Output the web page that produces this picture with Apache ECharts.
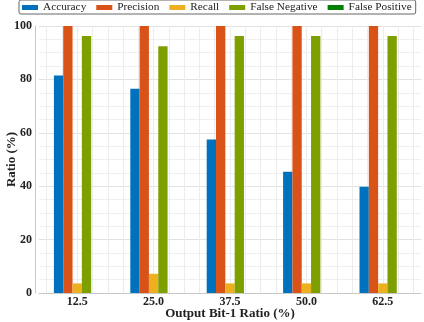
<!DOCTYPE html>
<html>
<head>
<meta charset="utf-8">
<script src="https://cdn.jsdelivr.net/npm/echarts@6/dist/echarts.min.js"></script>
<style>
  html, body { margin: 0; padding: 0; background: #fff; }
  #chart { width: 424px; height: 322px; }
</style>
</head>
<body>
<div id="chart"></div>
<script>
// Output bit-1 ratio categories (%)
const categories = ['12.5', '25.0', '37.5', '50.0', '62.5'];

// Metric values (%) per category
const accuracy      = [81.5, 76.5, 57.5, 45.4, 39.8];
const precision     = [100, 100, 100, 100, 100];
const recall        = [3.6, 7.2, 3.6, 3.6, 3.6];
const falseNegative = [96.3, 92.4, 96.3, 96.3, 96.3];
const falsePositive = [0, 0, 0, 0, 0];

const yTicks = [0, 20, 40, 60, 80, 100];

const seriesDefs = [
  { name: 'Accuracy',       data: accuracy,      color: '#0072BD' },
  { name: 'Precision',      data: precision,     color: '#D95319' },
  { name: 'Recall',         data: recall,        color: '#EDB120' },
  { name: 'False Negative', data: falseNegative, color: '#7E9F00' },
  { name: 'False Positive', data: falsePositive, color: '#007F00' }
];

// helper axis with half-step positions used only for the vertical grid lines
const gridSteps = [];
for (let i = 0; i <= 50; i++) gridSteps.push(String(i));

const serif = 'Liberation Serif, Times New Roman, serif';

const chart = echarts.init(document.getElementById('chart'), null, { renderer: 'canvas' });

chart.setOption({
  animation: false,
  backgroundColor: '#ffffff',
  legend: {
    top: 0,
    left: 19,
    width: 404,
    padding: [2, 4, 1, 3],
    itemGap: 10,
    itemWidth: 16,
    itemHeight: 5,
    borderColor: '#666',
    borderWidth: 1,
    borderRadius: 2,
    icon: 'rect',
    textStyle: { fontFamily: serif, fontSize: 11.3, color: '#222', padding: [0, 0, 0, 0] },
    data: seriesDefs.map(s => s.name)
  },
  grid: { left: 39, right: 3, top: 26, bottom: 29, outerBoundsMode: 'none', containLabel: false },
  xAxis: [
    {
      type: 'category',
      data: categories,
      axisLine: { show: true, lineStyle: { color: '#c8c8c8', width: 1 } },
      axisTick: { show: false },
      splitLine: { show: false },
      axisLabel: { fontFamily: serif, fontWeight: 'bold', fontSize: 12, color: '#222', margin: 3 },
      name: 'Output Bit-1 Ratio (%)',
      nameLocation: 'middle',
      nameGap: 14,
      nameMoveOverlap: false,
      nameTextStyle: { fontFamily: serif, fontWeight: 'bold', fontSize: 13, color: '#222' }
    },
    {
      type: 'category',
      data: gridSteps,
      boundaryGap: false,
      position: 'bottom',
      show: true,
      axisLine: { show: false },
      axisTick: { show: false },
      axisLabel: { show: false },
      splitLine: {
        show: true,
        interval: (idx) => idx % 2 === 1,
        lineStyle: { color: '#ececec', width: 1 }
      }
    }
  ],
  yAxis: {
    type: 'value',
    min: yTicks[0],
    max: yTicks[yTicks.length - 1],
    interval: 20,
    offset: 4,
    axisLine: { show: true, lineStyle: { color: '#c8c8c8', width: 1 } },
    axisTick: { show: false },
    axisLabel: { fontFamily: serif, fontWeight: 'bold', fontSize: 12, color: '#222', margin: 3 },
    splitLine: { show: true, lineStyle: { color: '#e2e2e2', width: 1 } },
    minorTick: { show: false, splitNumber: 4 },
    minorSplitLine: { show: true, lineStyle: { color: '#efefef', width: 1 } },
    name: 'Ratio (%)',
    nameLocation: 'middle',
    nameGap: 17,
    nameMoveOverlap: false,
    nameTextStyle: { fontFamily: serif, fontWeight: 'bold', fontSize: 13, color: '#222' }
  },
  series: seriesDefs.map(s => ({
    name: s.name,
    type: 'bar',
    xAxisIndex: 0,
    data: s.data,
    barGap: '0%',
    barCategoryGap: '39%',
    itemStyle: { color: s.color }
  }))
});
</script>
</body>
</html>
